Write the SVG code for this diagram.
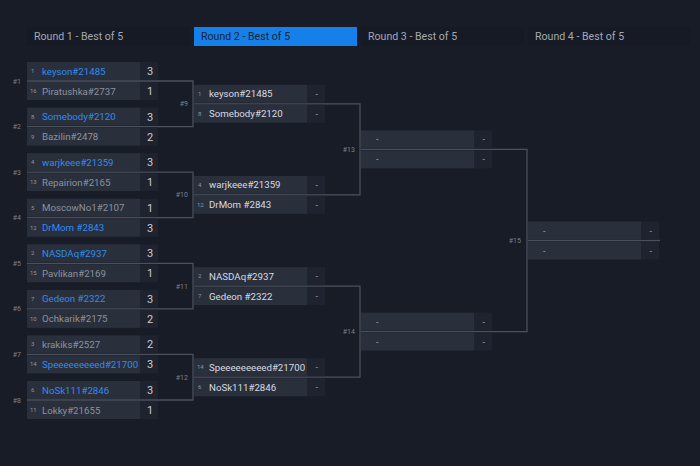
<svg xmlns="http://www.w3.org/2000/svg" width="700" height="466" viewBox="0 0 700 466">
<style>
text{font-family:Roboto,"Liberation Sans",sans-serif}
.hdr{fill:#151a24}
.hdrA{fill:#1580ea}
.ht{font-size:10.6px;fill:#a3a9b4}
.htA{font-size:10.6px;fill:#1b2330}
.nb{fill:#2a2f3c}
.sb{fill:#1e232f}
.seed{font-size:6px;fill:#8f95a0}
.w{font-size:9.7px;fill:#2f8cf0}
.l{font-size:9.7px;fill:#8c929e}
.n{font-size:9.7px;fill:#d7dbe2}
.sc{font-size:11px;fill:#c9cdd4}
.d{font-size:9px;fill:#9aa0aa}
.lab{font-size:7px;fill:#7b818d;text-anchor:end}
.con{fill:none;stroke:#4a505d;stroke-width:1.3}
</style>
<rect width="700" height="466" fill="#181c27"/>
<g id="headers">
<rect class="hdr" x="27" y="27" width="163" height="19"/>
<text class="ht" x="34" y="40">Round 1 - Best of 5</text>
<rect class="hdrA" x="194" y="27" width="163" height="19"/>
<text class="htA" x="201" y="40">Round 2 - Best of 5</text>
<rect class="hdr" x="361" y="27" width="163" height="19"/>
<text class="ht" x="368" y="40">Round 3 - Best of 5</text>
<rect class="hdr" x="528" y="27" width="163" height="19"/>
<text class="ht" x="535" y="40">Round 4 - Best of 5</text>
</g>
<g id="connectors">
<path class="con" d="M27 81H193V126.6H27"/>
<path class="con" d="M27 172.1H193V217.7H27"/>
<path class="con" d="M27 263.3H193V308.9H27"/>
<path class="con" d="M27 354.4H193V400H27"/>
<path class="con" d="M194 103.8H360V194.9H194"/>
<path class="con" d="M194 286.1H360V377.2H194"/>
<path class="con" d="M361 149.4H527V331.6H361"/>
<path class="con" d="M528 240.5H660"/>
</g>
<g id="m1"><rect class="nb" x="27" y="62" width="113" height="18"/><rect class="nb" x="27" y="82" width="113" height="18"/><rect class="sb" x="140" y="62" width="18" height="18"/><rect class="sb" x="140" y="82" width="18" height="18"/>
<text class="lab" x="21" y="83.5">#1</text><text class="seed" x="31" y="73">1</text><text class="w" x="42" y="74.5">keyson#21485</text><text class="sc" x="147" y="75">3</text>
<text class="seed" x="30" y="93">16</text><text class="l" x="42" y="94.5">Piratushka#2737</text><text class="sc" x="147" y="95">1</text></g>
<g id="m2"><rect class="nb" x="27" y="107.6" width="113" height="18"/><rect class="nb" x="27" y="127.6" width="113" height="18"/><rect class="sb" x="140" y="107.6" width="18" height="18"/><rect class="sb" x="140" y="127.6" width="18" height="18"/>
<text class="lab" x="21" y="129">#2</text><text class="seed" x="31" y="118.6">8</text><text class="w" x="42" y="120.1">Somebody#2120</text><text class="sc" x="147" y="120.6">3</text>
<text class="seed" x="31" y="138.6">9</text><text class="l" x="42" y="140.1">Bazilin#2478</text><text class="sc" x="147" y="140.6">2</text></g>
<g id="m3"><rect class="nb" x="27" y="153.1" width="113" height="18"/><rect class="nb" x="27" y="173.1" width="113" height="18"/><rect class="sb" x="140" y="153.1" width="18" height="18"/><rect class="sb" x="140" y="173.1" width="18" height="18"/>
<text class="lab" x="21" y="174.6">#3</text><text class="seed" x="31" y="164.1">4</text><text class="w" x="42" y="165.6">warjkeee#21359</text><text class="sc" x="147" y="166.1">3</text>
<text class="seed" x="30" y="184.1">13</text><text class="l" x="42" y="185.6">Repairion#2165</text><text class="sc" x="147" y="186.1">1</text></g>
<g id="m4"><rect class="nb" x="27" y="198.7" width="113" height="18"/><rect class="nb" x="27" y="218.7" width="113" height="18"/><rect class="sb" x="140" y="198.7" width="18" height="18"/><rect class="sb" x="140" y="218.7" width="18" height="18"/>
<text class="lab" x="21" y="220.2">#4</text><text class="seed" x="31" y="209.7">5</text><text class="l" x="42" y="211.2">MoscowNo1#2107</text><text class="sc" x="147" y="211.7">1</text>
<text class="seed" x="30" y="229.7">12</text><text class="w" x="42" y="231.2">DrMom #2843</text><text class="sc" x="147" y="231.7">3</text></g>
<g id="m5"><rect class="nb" x="27" y="244.3" width="113" height="18"/><rect class="nb" x="27" y="264.3" width="113" height="18"/><rect class="sb" x="140" y="244.3" width="18" height="18"/><rect class="sb" x="140" y="264.3" width="18" height="18"/>
<text class="lab" x="21" y="265.8">#5</text><text class="seed" x="31" y="255.3">2</text><text class="w" x="42" y="256.8">NASDAq#2937</text><text class="sc" x="147" y="257.3">3</text>
<text class="seed" x="30" y="275.3">15</text><text class="l" x="42" y="276.8">Pavlikan#2169</text><text class="sc" x="147" y="277.3">1</text></g>
<g id="m6"><rect class="nb" x="27" y="289.9" width="113" height="18"/><rect class="nb" x="27" y="309.9" width="113" height="18"/><rect class="sb" x="140" y="289.9" width="18" height="18"/><rect class="sb" x="140" y="309.9" width="18" height="18"/>
<text class="lab" x="21" y="311.4">#6</text><text class="seed" x="31" y="300.9">7</text><text class="w" x="42" y="302.4">Gedeon #2322</text><text class="sc" x="147" y="302.9">3</text>
<text class="seed" x="30" y="320.9">10</text><text class="l" x="42" y="322.4">Ochkarik#2175</text><text class="sc" x="147" y="322.9">2</text></g>
<g id="m7"><rect class="nb" x="27" y="335.4" width="113" height="18"/><rect class="nb" x="27" y="355.4" width="113" height="18"/><rect class="sb" x="140" y="335.4" width="18" height="18"/><rect class="sb" x="140" y="355.4" width="18" height="18"/>
<text class="lab" x="21" y="356.9">#7</text><text class="seed" x="31" y="346.4">3</text><text class="l" x="42" y="347.9">krakiks#2527</text><text class="sc" x="147" y="348.4">2</text>
<text class="seed" x="30" y="366.4">14</text><text class="w" x="42" y="367.9">Speeeeeeeeed#21700</text><text class="sc" x="147" y="368.4">3</text></g>
<g id="m8"><rect class="nb" x="27" y="381" width="113" height="18"/><rect class="nb" x="27" y="401" width="113" height="18"/><rect class="sb" x="140" y="381" width="18" height="18"/><rect class="sb" x="140" y="401" width="18" height="18"/>
<text class="lab" x="21" y="402.5">#8</text><text class="seed" x="31" y="392">6</text><text class="w" x="42" y="393.5">NoSk111#2846</text><text class="sc" x="147" y="394">3</text>
<text class="seed" x="30" y="412">11</text><text class="l" x="42" y="413.5">Lokky#21655</text><text class="sc" x="147" y="414">1</text></g>
<g id="m9"><rect class="nb" x="194" y="84.8" width="113" height="18"/><rect class="nb" x="194" y="104.8" width="113" height="18"/><rect class="sb" x="307" y="84.8" width="18" height="18"/><rect class="sb" x="307" y="104.8" width="18" height="18"/>
<text class="lab" x="188" y="106.3">#9</text><text class="seed" x="198" y="95.8">1</text><text class="n" x="209" y="97.3">keyson#21485</text><text class="d" x="315.5" y="96.8">-</text>
<text class="seed" x="198" y="115.8">8</text><text class="n" x="209" y="117.3">Somebody#2120</text><text class="d" x="315.5" y="116.8">-</text></g>
<g id="m10"><rect class="nb" x="194" y="175.9" width="113" height="18"/><rect class="nb" x="194" y="195.9" width="113" height="18"/><rect class="sb" x="307" y="175.9" width="18" height="18"/><rect class="sb" x="307" y="195.9" width="18" height="18"/>
<text class="lab" x="188" y="197.4">#10</text><text class="seed" x="198" y="186.9">4</text><text class="n" x="209" y="188.4">warjkeee#21359</text><text class="d" x="315.5" y="187.9">-</text>
<text class="seed" x="197" y="206.9">12</text><text class="n" x="209" y="208.4">DrMom #2843</text><text class="d" x="315.5" y="207.9">-</text></g>
<g id="m11"><rect class="nb" x="194" y="267.1" width="113" height="18"/><rect class="nb" x="194" y="287.1" width="113" height="18"/><rect class="sb" x="307" y="267.1" width="18" height="18"/><rect class="sb" x="307" y="287.1" width="18" height="18"/>
<text class="lab" x="188" y="288.6">#11</text><text class="seed" x="198" y="278.1">2</text><text class="n" x="209" y="279.6">NASDAq#2937</text><text class="d" x="315.5" y="279.1">-</text>
<text class="seed" x="198" y="298.1">7</text><text class="n" x="209" y="299.6">Gedeon #2322</text><text class="d" x="315.5" y="299.1">-</text></g>
<g id="m12"><rect class="nb" x="194" y="358.2" width="113" height="18"/><rect class="nb" x="194" y="378.2" width="113" height="18"/><rect class="sb" x="307" y="358.2" width="18" height="18"/><rect class="sb" x="307" y="378.2" width="18" height="18"/>
<text class="lab" x="188" y="379.7">#12</text><text class="seed" x="197" y="369.2">14</text><text class="n" x="209" y="370.7">Speeeeeeeeed#21700</text><text class="d" x="315.5" y="370.2">-</text>
<text class="seed" x="198" y="389.2">6</text><text class="n" x="209" y="390.7">NoSk111#2846</text><text class="d" x="315.5" y="390.2">-</text></g>
<g id="m13"><rect class="nb" x="361" y="130.4" width="113" height="18"/><rect class="nb" x="361" y="150.4" width="113" height="18"/><rect class="sb" x="474" y="130.4" width="18" height="18"/><rect class="sb" x="474" y="150.4" width="18" height="18"/>
<text class="lab" x="355" y="151.9">#13</text><text class="d" x="376" y="142.4">-</text><text class="d" x="482.5" y="142.4">-</text>
<text class="d" x="376" y="162.4">-</text><text class="d" x="482.5" y="162.4">-</text></g>
<g id="m14"><rect class="nb" x="361" y="312.6" width="113" height="18"/><rect class="nb" x="361" y="332.6" width="113" height="18"/><rect class="sb" x="474" y="312.6" width="18" height="18"/><rect class="sb" x="474" y="332.6" width="18" height="18"/>
<text class="lab" x="355" y="334.1">#14</text><text class="d" x="376" y="324.6">-</text><text class="d" x="482.5" y="324.6">-</text>
<text class="d" x="376" y="344.6">-</text><text class="d" x="482.5" y="344.6">-</text></g>
<g id="m15"><rect class="nb" x="528" y="221.5" width="113" height="18"/><rect class="nb" x="528" y="241.5" width="113" height="18"/><rect class="sb" x="641" y="221.5" width="18" height="18"/><rect class="sb" x="641" y="241.5" width="18" height="18"/>
<text class="lab" x="521" y="243">#15</text><text class="d" x="543" y="233.5">-</text><text class="d" x="649.5" y="233.5">-</text>
<text class="d" x="543" y="253.5">-</text><text class="d" x="649.5" y="253.5">-</text></g>
</svg>
